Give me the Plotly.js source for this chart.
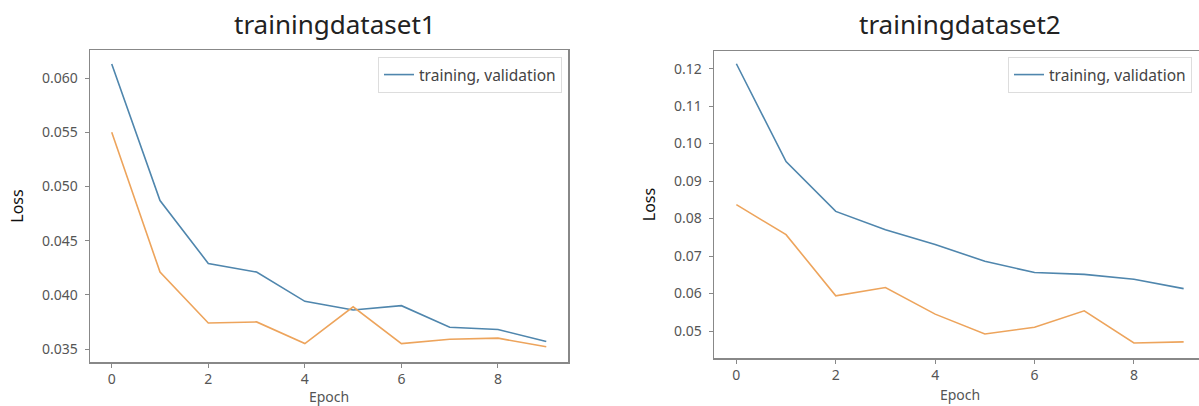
<!DOCTYPE html>
<html>
<head>
<meta charset="utf-8">
<script src="https://cdn.plot.ly/plotly-3.0.1.min.js"></script>
<style>
html, body { margin:0; padding:0; overflow:hidden; background:#fff; }
#chart { width:1210px; height:406px; }
</style>
</head>
<body>
<div id="chart"></div>
<script>
const epochs = [0, 1, 2, 3, 4, 5, 6, 7, 8, 9];
const train1 = [0.0613, 0.0487, 0.0429, 0.0421, 0.0394, 0.0386, 0.0390, 0.0370, 0.0368, 0.0357];
const valid1 = [0.0550, 0.0421, 0.0374, 0.0375, 0.0355, 0.0389, 0.0355, 0.0359, 0.0360, 0.0352];
const train2 = [0.1213, 0.0952, 0.0819, 0.0770, 0.0731, 0.0686, 0.0656, 0.0651, 0.0638, 0.0613];
const valid2 = [0.0837, 0.0757, 0.0594, 0.0616, 0.0545, 0.0492, 0.0510, 0.0554, 0.0468, 0.0471];
const titles = ["trainingdataset1", "trainingdataset2"];
const legendName = "training, validation";
const xTicks = [0, 2, 4, 6, 8];
const yTicks1 = [0.035, 0.040, 0.045, 0.050, 0.055, 0.060];
const yTicks2 = [0.05, 0.06, 0.07, 0.08, 0.09, 0.10, 0.11, 0.12];

const W = 1210, H = 406;
const BLUE = "#4f86ad", ORANGE = "#eda45c";
const px = v => v / W;
const py = v => (H - v) / H;

const traces = [
  {x: epochs, y: train1, xaxis: "x", yaxis: "y", mode: "lines", name: legendName,
   line: {color: BLUE, width: 1.6}, legend: "legend"},
  {x: epochs, y: valid1, xaxis: "x", yaxis: "y", mode: "lines", showlegend: false,
   line: {color: ORANGE, width: 1.6}},
  {x: epochs, y: train2, xaxis: "x2", yaxis: "y2", mode: "lines", name: legendName,
   line: {color: BLUE, width: 1.6}, legend: "legend2"},
  {x: epochs, y: valid2, xaxis: "x2", yaxis: "y2", mode: "lines", showlegend: false,
   line: {color: ORANGE, width: 1.6}}
];

const FONT = "Noto Sans, DejaVu Sans, sans-serif";
const tickFont = {family: FONT, size: 14, color: "#555"};
const axBase = {
  showline: true, mirror: true, linecolor: "#888", linewidth: 1.5,
  showgrid: false, zeroline: false, ticks: "outside", ticklen: 4,
  tickcolor: "#888", tickwidth: 1, tickfont: tickFont
};
const legBase = {
  bgcolor: "rgba(255,255,255,0.9)", bordercolor: "#ddd", borderwidth: 1,
  font: {family: FONT, size: 15.5, color: "#444"},
  yanchor: "top", itemwidth: 30, tracegroupgap: 0
};
const epochTitle = {text: "Epoch", font: {family: FONT, size: 14, color: "#555"}, standoff: 7};
const lossTitle = {text: "Loss", font: {family: FONT, size: 16, color: "#111"}, standoff: 14};

const layout = {
  width: W, height: H,
  margin: {l: 0, r: 0, t: 0, b: 0},
  paper_bgcolor: "#fff", plot_bgcolor: "#fff",
  xaxis: Object.assign({}, axBase, {domain: [px(90), px(568)], anchor: "y",
    range: [-0.45, 9.45], tickvals: xTicks, title: epochTitle}),
  yaxis: Object.assign({}, axBase, {domain: [py(362), py(50)], anchor: "x",
    range: [0.0338, 0.0626], tickvals: yTicks1, tickformat: ".3f", ticklabelstandoff: 4, title: lossTitle}),
  xaxis2: Object.assign({}, axBase, {domain: [px(714), px(1206)], anchor: "y2",
    range: [-0.45, 9.45], tickvals: xTicks, title: epochTitle}),
  yaxis2: Object.assign({}, axBase, {domain: [py(358), py(51)], anchor: "x2",
    range: [0.0428, 0.1247], tickvals: yTicks2, tickformat: ".2f", ticklabelstandoff: 4, title: lossTitle}),
  legend: Object.assign({}, legBase, {x: px(562), xanchor: "right", y: py(57)}),
  legend2: Object.assign({}, legBase, {x: px(1008), xanchor: "left", y: py(57)}),
  annotations: [
    {text: titles[0], xref: "paper", yref: "paper", x: px(335), y: py(24), xanchor: "center", yanchor: "middle",
     showarrow: false, font: {family: FONT, size: 26, color: "#222"}},
    {text: titles[1], xref: "paper", yref: "paper", x: px(960), y: py(24), xanchor: "center", yanchor: "middle",
     showarrow: false, font: {family: FONT, size: 26, color: "#222"}}
  ],
  showlegend: true
};

Plotly.newPlot("chart", traces, layout, {displayModeBar: false, staticPlot: true});
</script>
</body>
</html>
